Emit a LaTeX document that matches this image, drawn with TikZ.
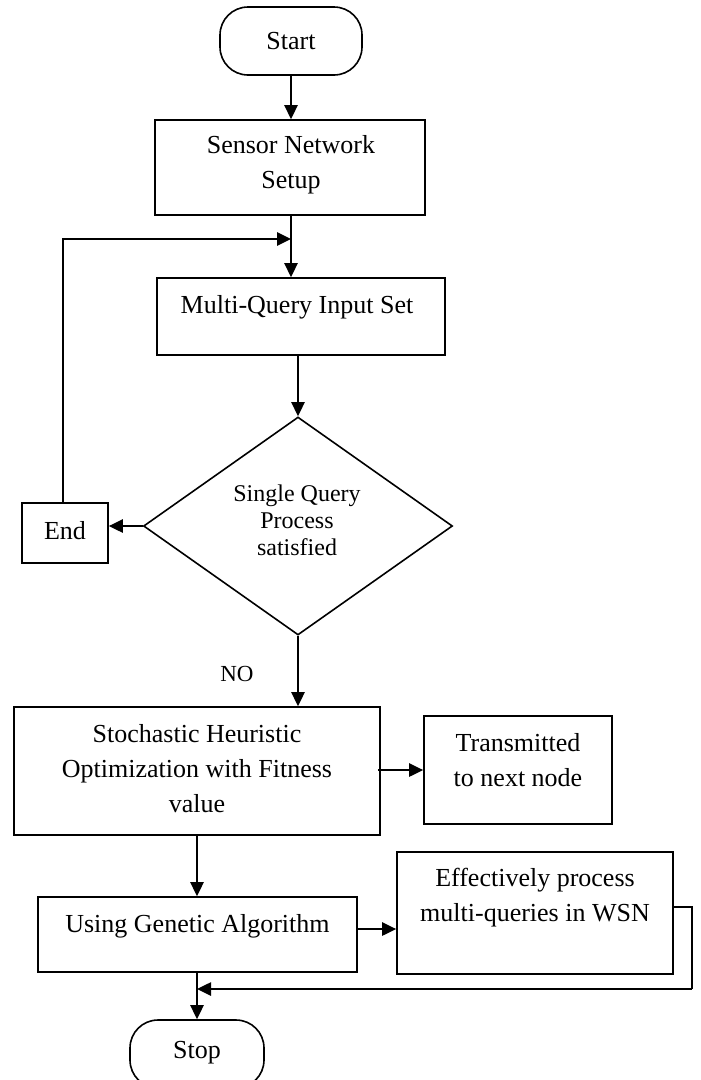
\documentclass[tikz,border=0pt]{standalone}
\usepackage{fontspec}
\setmainfont{Liberation Serif}
\usetikzlibrary{shapes.geometric,arrows.meta,calc}
\begin{document}
\begin{tikzpicture}[x=1pt,y=-1pt,
  box/.style={draw,line width=1.6pt,inner sep=0pt,rectangle},
  term/.style={box,rounded corners=28pt},
  decision/.style={draw,line width=1.6pt,inner sep=0pt,diamond},
  txt/.style={inner sep=0pt,align=center,font=\fontsize{26pt}{35pt}\selectfont},
  dtxt/.style={inner sep=0pt,align=center,font=\fontsize{24pt}{27pt}\selectfont},
  conn/.style={line width=2.6pt,-{Triangle[length=14pt,width=13pt]}},
  line/.style={line width=2.6pt}
]
\clip (0,0) rectangle (701,1080);
% shapes
\node[term,minimum width=142pt,minimum height=68pt] (start) at (291,41) {};
\node[box,minimum width=270pt,minimum height=95pt] (sensor) at (290,167.5) {};
\node[box,minimum width=288pt,minimum height=77pt] (multi) at (301,316.5) {};
\node[decision,minimum width=309pt,minimum height=218pt] (dec) at (298,526) {};
\node[box,minimum width=86pt,minimum height=60pt] (end) at (65,533) {};
\node[box,minimum width=366pt,minimum height=128pt] (stoch) at (197,771) {};
\node[box,minimum width=188pt,minimum height=108pt] (trans) at (518,770) {};
\node[box,minimum width=319pt,minimum height=75pt] (using) at (197.5,934.5) {};
\node[box,minimum width=276pt,minimum height=122pt] (eff) at (535,913) {};
\node[term,minimum width=134pt,minimum height=68pt] (stop) at (197,1054) {};
% texts
\node[txt] (startT) at (291,41) {Start};
\node[txt] (sensorT) at (291,165) {Sensor Network\\Setup};
\node[txt] (multiT) at (297,307) {Multi-Query Input Set};
\node[dtxt] (decT) at (297,520) {Single Query\\Process\\satisfied};
\node[txt] (endT) at (65,531) {End};
\node[inner sep=0pt,font=\fontsize{23pt}{27pt}\selectfont] (noT) at (237,674) {NO};
\node[txt] (stochT) at (197,769) {Stochastic Heuristic\\Optimization with Fitness\\value};
\node[txt] (transT) at (518,760) {Transmitted\\to next node};
\node[txt] (usingT) at (197.5,926) {Using Genetic Algorithm};
\node[txt] (effT) at (535,898) {Effectively process\\multi-queries in WSN};
\node[txt] (stopT) at (197,1053) {Stop};
% connectors
\coordinate (loopJ) at (291,239);
\coordinate (fbR) at (692,989);
\coordinate (fbJ) at (197,989);
\draw[conn] (start.south) -- (start.south |- sensor.north);
\draw[conn] (start.south |- sensor.south) -- (start.south |- multi.north);
\draw[conn] ([xshift=-2pt]end.north) |- (loopJ);
\draw[conn] (dec.north |- multi.south) -- (dec.north);
\draw[conn] (dec.west) -- (dec.west -| end.east);
\draw[conn] (dec.south) -- (dec.south |- stoch.north);
\draw[conn] ([xshift=-3pt]stoch.east |- trans.west) -- (trans.west);
\draw[conn] (stoch.south) -- (stoch.south |- using.north);
\draw[conn] ([yshift=5.5pt]using.east) -- ([yshift=5.5pt]using.east -| eff.west);
\draw[line] ([yshift=6pt]eff.east) -| (fbR);
\draw[conn] (fbR) -- (fbJ);
\draw[conn] (fbJ |- using.south) -- (stop.north);
\end{tikzpicture}
\end{document}
